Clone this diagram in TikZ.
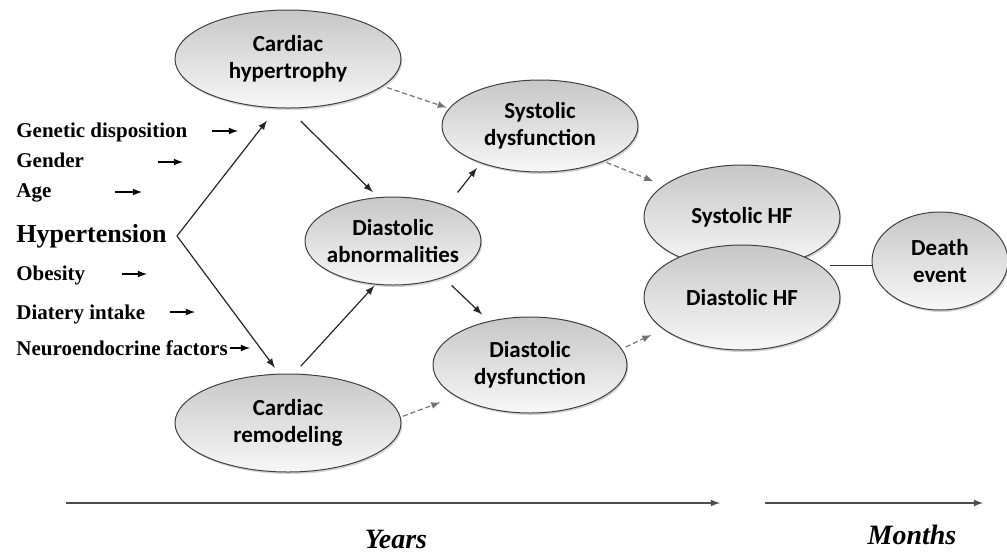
\documentclass[tikz,border=0pt]{standalone}
\usepackage{fontspec}
\setmainfont{Liberation Serif}
\newfontfamily\blobfont{Carlito}
\usetikzlibrary{shapes.geometric,shadows,arrows}

\tikzset{
   blob/.style={ellipse, draw=black!75, line width=0.5pt, top color=black!22, bottom color=black!3,
      drop shadow={shadow xshift=0.6pt, shadow yshift=-1pt, opacity=0.35},
      inner sep=0pt, align=center, font=\blobfont\bfseries\fontsize{11.5}{13.5}\selectfont},
   factor/.style={anchor=base west, inner sep=0pt, font=\bfseries\fontsize{10.5}{12}\selectfont},
   link/.style={-latex, line width=0.6pt, black!85},
   hint/.style={-latex, line width=0.6pt, black!55, dash pattern=on 2.5pt off 1.5pt},
   tick/.style={-latex, line width=0.6pt},
   span/.style={-latex, line width=0.6pt, black!70},
   period/.style={anchor=base, inner sep=0pt, font=\bfseries\itshape\fontsize{14}{16}\selectfont}
}

\begin{document}
\begin{tikzpicture}[x=0.5pt,y=-0.5pt]
   \useasboundingbox (0,0) rectangle (1007,554);

   \node[blob, minimum width=113pt, minimum height=49pt] (hyper) at (288,59) {Cardiac\\hypertrophy};
   \node[blob, minimum width=113pt, minimum height=49pt] (remod) at (288,423) {Cardiac\\remodeling};
   \node[blob, minimum width=88pt, minimum height=44pt, inner xsep=-6pt] (abnorm) at (393,241) {Diastolic\\abnormalities};
   \node[blob, minimum width=98pt, minimum height=46pt] (sysdys) at (540,126) {Systolic\\dysfunction};
   \node[blob, minimum width=97pt, minimum height=48pt] (diadys) at (530,365) {Diastolic\\dysfunction};
   \node[blob, minimum width=98pt, minimum height=52pt] (syshf) at (742,217) {Systolic HF};
   \node[blob, minimum width=98pt, minimum height=52.5pt] (diahf) at (742,297.5) {Diastolic HF};
   \node[blob, minimum width=68pt, minimum height=49pt] (death) at (940,261) {Death\\event};

   \node[factor] (gen) at (16,137) {Genetic disposition};
   \node[factor] (gender) at (16,167) {Gender};
   \node[factor] (age) at (16,197) {Age};
   \node[factor, font=\bfseries\fontsize{13}{15}\selectfont] (hyp) at (16,242) {Hypertension};
   \node[factor] (obes) at (16,280) {Obesity};
   \node[factor] (diet) at (16,319) {Diatery intake};
   \node[factor] (neuro) at (16,355) {Neuroendocrine factors};

   \foreach \n/\px/\py/\l in {gen/212/131/26, gender/158/162/25, age/115/192/27,
         obes/122/274/25, diet/170/312/25, neuro/230/348/20}
      \draw[tick] (\px,\py) coordinate (\n-tail) -- ++(\l,0) coordinate (\n-head);

   \coordinate (apex) at (177,236);
   \draw[link, shorten >=7.8pt] (apex) -- (hyper.257);
   \draw[link, shorten >=3.7pt] (apex) -- (remod.100);

   \draw[link, shorten <=9pt, shorten >=3.5pt] (hyper.270) -- (abnorm.109.5);
   \draw[link, shorten <=8.5pt, shorten >=3pt] (abnorm.33.4) -- (sysdys.212.5);
   \draw[link, shorten <=5pt, shorten >=0.7pt] (remod.83.5) -- (abnorm.248.3);
   \draw[link, shorten <=5.7pt, shorten >=4.7pt] (abnorm.324.8) -- (diadys.133.6);

   \draw[hint, shorten <=2.2pt, shorten >=1.1pt] (hyper.344.4) -- (sysdys.169.2);
   \draw[hint, shorten <=1.2pt, shorten >=8.2pt] (remod.3.7) -- (diadys.203.8);
   \draw[hint, shorten <=1.5pt, shorten >=5.4pt] (sysdys.331.5) -- (syshf.158.8);
   \draw[hint, shorten <=2.2pt, shorten >=6.5pt] (diadys.10.1) -- (diahf.202.8);

   \draw[line width=0.7pt, black!80, shorten <=4.5pt] (diahf.22.8) -- (diahf.22.8 -| death.west);

   \coordinate (yr-s) at (66,503);
   \coordinate (yr-e) at (720,503);
   \coordinate (mo-s) at (765,503);
   \coordinate (mo-e) at (983,503);
   \draw[span] (yr-s) -- (yr-e);
   \draw[span] (mo-s) -- (mo-e);
   \node[period] (years) at (396,548) {Years};
   \node[period] (months) at (912,544) {Months};
\end{tikzpicture}
\end{document}
